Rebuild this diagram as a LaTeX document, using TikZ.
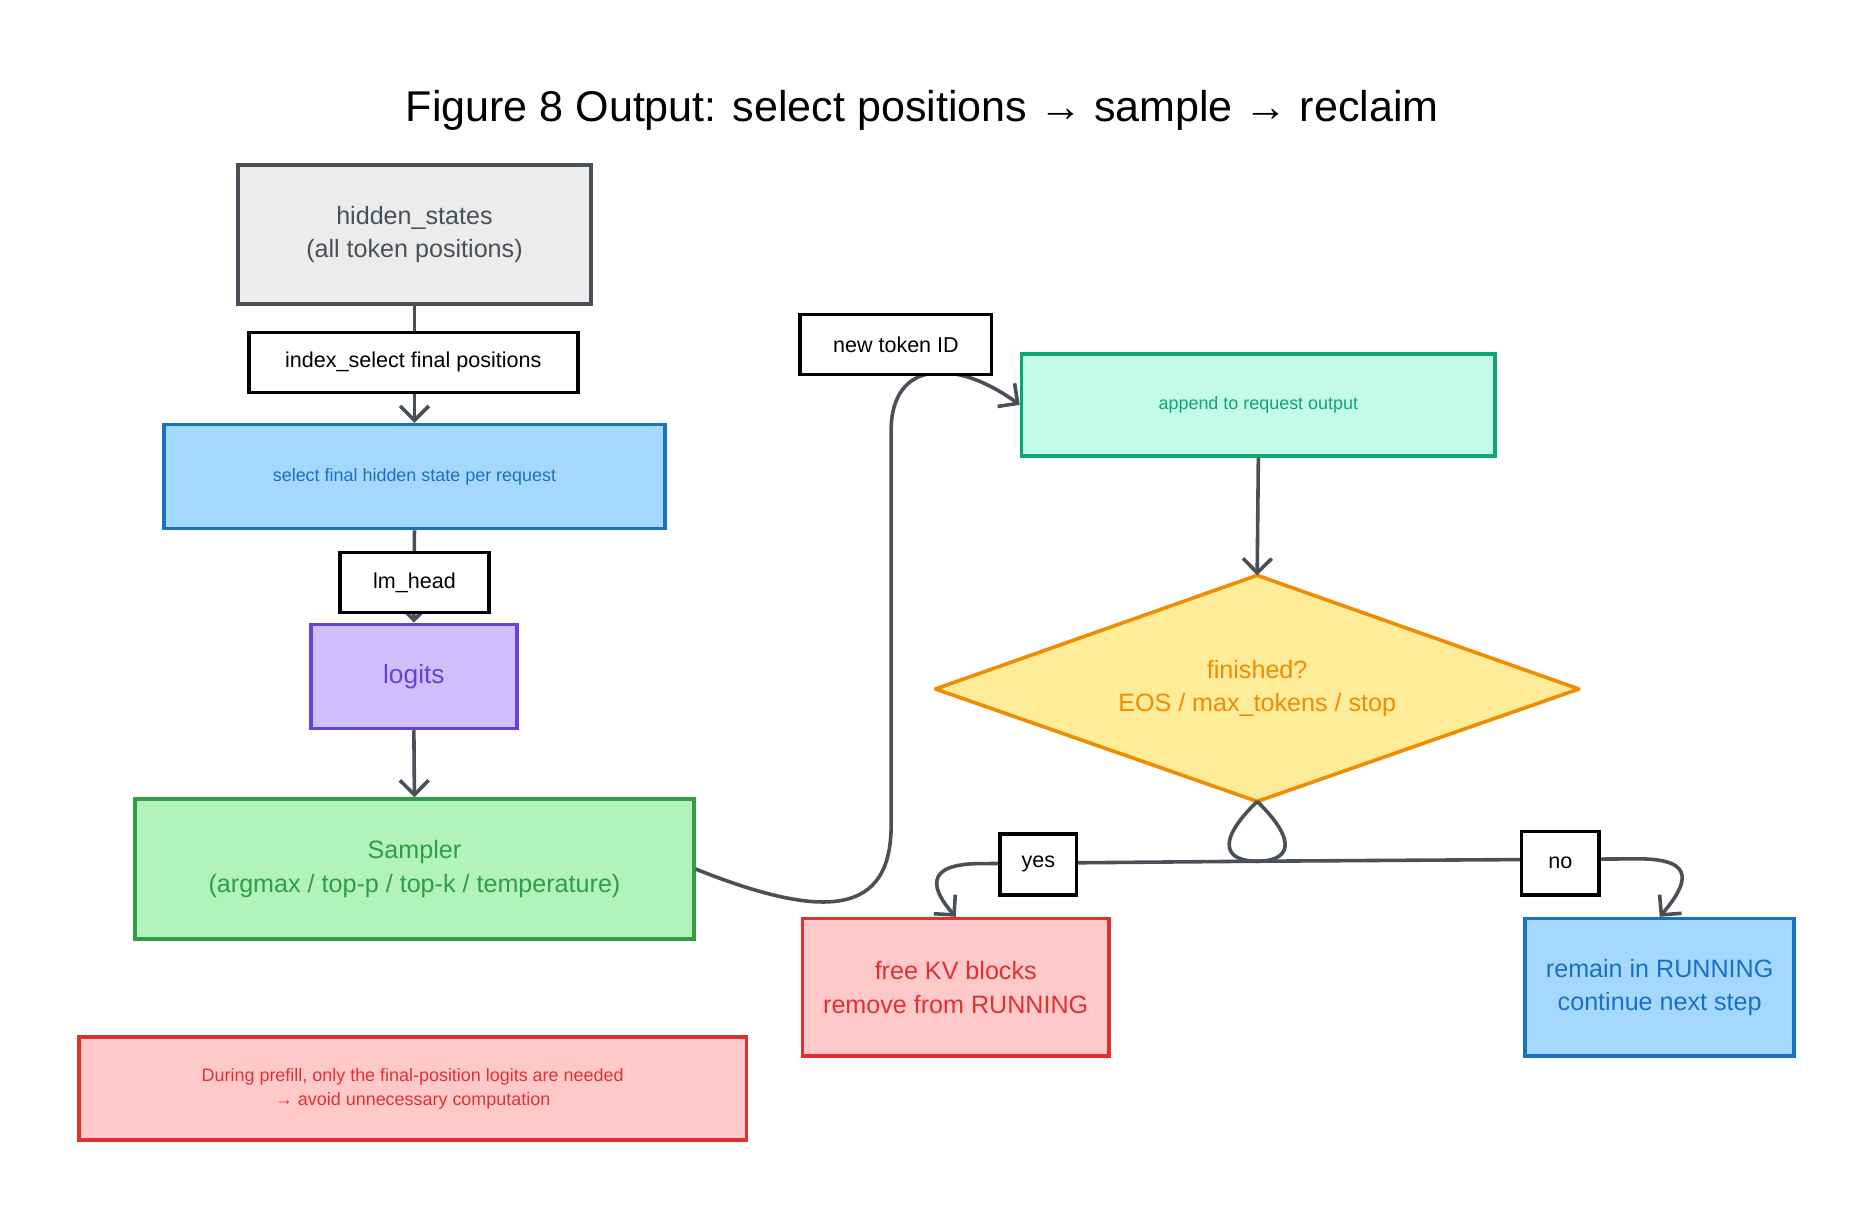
\documentclass[tikz,border=0pt]{standalone}
\usepackage{fontspec}
\setmainfont{Liberation Sans}
\usetikzlibrary{shapes.geometric,arrows.meta}
\definecolor{edge}{HTML}{495057}
\begin{document}
\begin{tikzpicture}[x=0.5pt,y=-0.5pt,
  box/.style={draw, line width=1.5pt, rectangle, align=center, inner sep=0},
  lab/.style={box, draw=black, fill=white, font=\fontsize{9}{11}\selectfont},
  conn/.style={draw=edge, line width=1.5pt, -{Straight Barb[length=6pt,width=12pt]}},
  plain/.style={draw=edge, line width=1.5pt}]
\useasboundingbox (0,0) rectangle (1560,1015);
\node (title) at (771,92) {\fontsize{18}{22}\selectfont Figure 8 Output: select positions → sample → reclaim};
\node (hid) [box, draw=edge, fill=gray!15, text=edge, minimum width=147.5pt, minimum height=58pt, font=\fontsize{10.5}{14}\selectfont] at (346.5,196) {hidden\_states\\(all token positions)};
\node (sel) [box, draw={rgb,255:red,25;green,113;blue,194}, fill={rgb,255:red,165;green,216;blue,255}, text={rgb,255:red,25;green,113;blue,194}, minimum width=209.5pt, minimum height=43.5pt, font=\fontsize{7.5}{9}\selectfont] at (346.5,398.5) {select final hidden state per request};
\node (log) [box, draw={rgb,255:red,103;green,65;blue,217}, fill={rgb,255:red,208;green,191;blue,255}, text={rgb,255:red,103;green,65;blue,217}, minimum width=86pt, minimum height=43.5pt, font=\fontsize{11}{14}\selectfont] at (346,565.5) {logits};
\node (samp) [box, draw={rgb,255:red,47;green,158;blue,68}, fill={rgb,255:red,178;green,242;blue,187}, text={rgb,255:red,47;green,158;blue,68}, minimum width=233.5pt, minimum height=58.5pt, font=\fontsize{10.5}{14}\selectfont] at (346.5,726.5) {Sampler\\(argmax / top-p / top-k / temperature)};
\node (note) [box, draw={rgb,255:red,224;green,49;blue,49}, fill={rgb,255:red,255;green,201;blue,201}, text={rgb,255:red,224;green,49;blue,49}, minimum width=279pt, minimum height=43pt, font=\fontsize{7.5}{10}\selectfont] at (345,910) {During prefill, only the final-position logits are needed\\→ avoid unnecessary computation};
\node (app) [box, draw={rgb,255:red,12;green,166;blue,120}, fill={rgb,255:red,195;green,250;blue,232}, text={rgb,255:red,12;green,166;blue,120}, minimum width=198pt, minimum height=42.5pt, font=\fontsize{7.5}{9}\selectfont] at (1052,338.5) {append to request output};
\coordinate (dtop) at (1051,481);
\coordinate (dbot) at (1051,670);
\draw[line width=1.5pt, draw={rgb,255:red,240;green,140;blue,0}, fill={rgb,255:red,255;green,236;blue,153}, line join=round] (dtop) -- (1320,576) -- (dbot) -- (782,576) -- cycle;
\node (dia) [text={rgb,255:red,240;green,140;blue,0}, align=center, font=\fontsize{10.5}{14}\selectfont] at (1051,575.5) {finished?\\EOS / max\_tokens / stop};
\node (free) [box, draw={rgb,255:red,224;green,49;blue,49}, fill={rgb,255:red,255;green,201;blue,201}, text={rgb,255:red,224;green,49;blue,49}, minimum width=128pt, minimum height=57.5pt, font=\fontsize{10.5}{14}\selectfont] at (799,825.5) {free KV blocks\\remove from RUNNING};
\node (rem) [box, draw={rgb,255:red,25;green,113;blue,194}, fill={rgb,255:red,165;green,216;blue,255}, text={rgb,255:red,25;green,113;blue,194}, minimum width=112.5pt, minimum height=57.5pt, font=\fontsize{10.5}{14}\selectfont] at (1387.5,825.5) {remain in RUNNING\\continue next step};
% connectors
\draw[conn] (hid.south) -- (sel.north);
\draw[conn] (sel.south) -- (log.north);
\draw[conn] (log.south) -- (samp.north);
\draw[conn] (samp.east) .. controls (690,770) and (745,765) .. (745,690) -- (745,360) .. controls (745,300) and (800,300) .. (app.west);
\draw[conn] (app.south) -- (dtop);
\coordinate (split) at (1051,720);
\draw[plain] (dbot) .. controls (1015,705) and (1025,720) .. (split);
\draw[plain] (dbot) .. controls (1087,705) and (1077,720) .. (split);
\draw[conn] (split) -- (820,722) .. controls (770,722) and (780,745) .. (free.north);
\draw[conn] (split) -- (1370,718) .. controls (1420,718) and (1410,740) .. (rem.north);
% labels
\node (idx) [lab, minimum width=137.5pt, minimum height=25pt] at (345.5,303) {index\_select final positions};
\node (lm) [lab, minimum width=62.5pt, minimum height=25pt] at (346.5,487) {lm\_head};
\node (tok) [lab, minimum width=80pt, minimum height=25pt] at (749,288) {new token ID};
\node (yes) [lab, minimum width=32pt, minimum height=25.5pt] at (868,722.5) {yes};
\node (no) [lab, minimum width=32.5pt, minimum height=26.5pt] at (1304.5,721.5) {no};
\end{tikzpicture}
\end{document}
